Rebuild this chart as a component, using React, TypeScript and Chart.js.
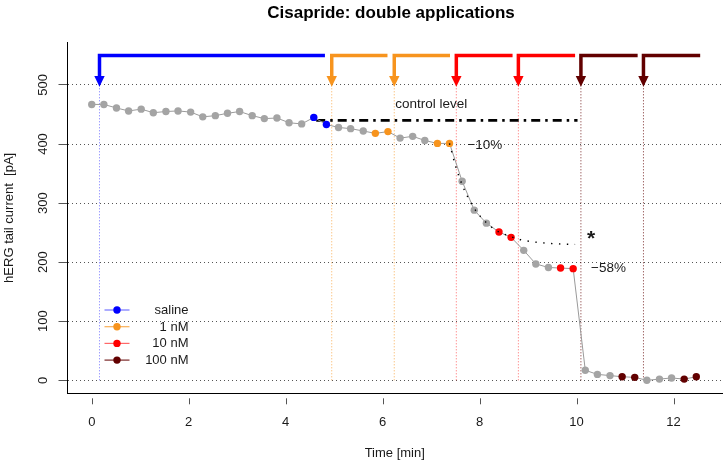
import { useEffect, useRef } from "react";
import { Chart, registerables } from "chart.js";

Chart.register(...registerables);

const FONT = '"Liberation Sans", Arial, Helvetica, sans-serif';

// ---- text ----
const TITLE = "Cisapride: double applications";
const X_TITLE = "Time [min]";
const Y_TITLE = "hERG tail current  [pA]";

// ---- axes ----
const X_MIN = -0.5;
const X_MAX = 13;
const Y_MIN = -22;
const Y_MAX = 572;
const xTickValues = [0, 2, 4, 6, 8, 10, 12];
const yTickValues = [0, 100, 200, 300, 400, 500];

// ---- measured series ----
const timeMin = [
  0.0, 0.25, 0.51, 0.76, 1.02, 1.27, 1.53, 1.78, 2.04, 2.29,
  2.55, 2.8, 3.05, 3.31, 3.56, 3.82, 4.07, 4.33, 4.58, 4.84,
  5.09, 5.34, 5.6, 5.85, 6.11, 6.36, 6.62, 6.87, 7.13, 7.38,
  7.64, 7.89, 8.14, 8.4, 8.65, 8.91, 9.16, 9.42, 9.67, 9.93,
  10.18, 10.43, 10.69, 10.94, 11.2, 11.45, 11.71, 11.96, 12.22, 12.47,
];
const currentPA = [
  467, 467, 461, 456, 459, 453, 455, 456, 454, 446,
  448, 452, 455, 448, 443, 444, 436, 434, 445, 433,
  428, 426, 422, 418, 421, 410, 413, 406, 401, 401,
  337, 288, 266, 251, 242, 220, 197, 191, 190, 189,
  17, 10, 8, 6, 5, 0, 2, 4, 2, 6,
];
// -1 = no group (grey), otherwise index into groupNames
const pointGroup = [
  -1, -1, -1, -1, -1, -1, -1, -1, -1, -1,
  -1, -1, -1, -1, -1, -1, -1, -1, 0, 0,
  -1, -1, -1, 1, 1, -1, -1, -1, 1, 1,
  -1, -1, -1, 2, 2, -1, -1, -1, 2, 2,
  -1, -1, -1, 3, 3, -1, -1, -1, 3, 3,
];

const groupNames = ["saline", "1 nM", "10 nM", "100 nM"];
const groupColors = ["#0000ff", "#f7941e", "#ff0000", "#620000"];
const groupLineColors = [
  "rgba(70,70,255,0.75)",
  "rgba(247,148,30,0.75)",
  "rgba(255,40,40,0.7)",
  "rgba(98,0,0,0.85)",
];
const GREY_POINT = "#a4a4a4";
const GREY_LINE = "#9a9a9a";

// ---- applications (arrows) ----
const applicationTimes = [0.16, 4.95, 6.24, 7.52, 8.8, 10.09, 11.38];
const applicationEnds = [4.81, 6.1, 7.39, 8.68, 9.97, 11.26, 12.55];
const applicationGroup = [0, 1, 1, 2, 2, 3, 3];
const ARROW_TOP = 550;
const ARROW_HEAD_BASE = 515;
const ARROW_TIP = 497;
const GUIDE_BOTTOM = 0;
const GUIDE_TOP = 500;

// ---- control level ----
const CONTROL_LEVEL = 440;
const controlSpan = [4.63, 10.02];

// ---- fitted decay after 10 nM ----
const fitTimes = [7.38, 7.5, 7.64, 7.77, 7.89, 8.02, 8.14, 8.3, 8.4, 8.55, 8.65, 8.85, 9.1, 9.4, 9.7, 9.97];
const fitValues = [401, 364, 331, 308, 291, 277, 267, 256, 251, 246, 243, 238, 234.5, 232, 230.7, 230];

// ---- annotations (data coordinates) ----
const annotationTexts = ["control level", "\u221210%", "*", "\u221258%"];
const annotationX = [6.26, 7.75, 10.3, 10.3];
const annotationY = [468, 398, 236, 190];

const overlayPlugin = {
  id: "overlay",
  afterDatasetsDraw(chart: any) {
    const { ctx, scales } = chart;
    const x = scales.x;
    const y = scales.y;
    ctx.save();
    // arrow heads
    applicationTimes.forEach((t, i) => {
      const px = x.getPixelForValue(t);
      const pb = y.getPixelForValue(ARROW_HEAD_BASE);
      const pt = y.getPixelForValue(ARROW_TIP);
      ctx.fillStyle = groupColors[applicationGroup[i]];
      ctx.beginPath();
      ctx.moveTo(px - 5.2, pb);
      ctx.lineTo(px + 5.2, pb);
      ctx.lineTo(px, pt);
      ctx.closePath();
      ctx.fill();
    });
    // annotations
    ctx.fillStyle = "#1a1a1a";
    annotationTexts.forEach((txt, i) => {
      const px = x.getPixelForValue(annotationX[i]);
      const py = y.getPixelForValue(annotationY[i]);
      if (txt === "*") {
        ctx.font = `bold 21px ${FONT}`;
        const m = ctx.measureText(txt);
        const asc = m.actualBoundingBoxAscent;
        const desc = m.actualBoundingBoxDescent;
        ctx.textAlign = "center";
        ctx.textBaseline = "alphabetic";
        ctx.fillText(txt, px, py + (asc - desc) / 2);
      } else {
        ctx.font = `13.5px ${FONT}`;
        ctx.textAlign = "left";
        ctx.textBaseline = "middle";
        ctx.fillText(txt, px, py);
      }
    });
    ctx.restore();
  },
  afterDraw(chart: any) {
    const { ctx, chartArea, scales } = chart;
    const x = scales.x;
    ctx.save();
    // title
    ctx.fillStyle = "#000";
    ctx.font = `bold 17px ${FONT}`;
    ctx.textAlign = "center";
    ctx.textBaseline = "middle";
    ctx.fillText(TITLE, 391, 13);
    // x tick marks (offset from the axis line)
    ctx.strokeStyle = "#555";
    ctx.lineWidth = 1;
    x.ticks.forEach((tk: any) => {
      const px = Math.round(x.getPixelForValue(tk.value)) + 0.5;
      ctx.beginPath();
      ctx.moveTo(px, chartArea.bottom + 5);
      ctx.lineTo(px, chartArea.bottom + 11);
      ctx.stroke();
    });
    // legend
    const lx0 = chartArea.left + 37;
    const lx1 = chartArea.left + 62;
    const textRight = chartArea.left + 121;
    const rowTop = 310;
    const rowGap = 16.7;
    ctx.font = `13px ${FONT}`;
    ctx.textAlign = "right";
    ctx.textBaseline = "middle";
    groupNames.forEach((name, i) => {
      const ry = rowTop + i * rowGap;
      ctx.strokeStyle = groupLineColors[i];
      ctx.lineWidth = 1.2;
      ctx.beginPath();
      ctx.moveTo(lx0, ry);
      ctx.lineTo(lx1, ry);
      ctx.stroke();
      ctx.fillStyle = groupColors[i];
      ctx.beginPath();
      ctx.arc((lx0 + lx1) / 2, ry, 3.7, 0, Math.PI * 2);
      ctx.fill();
      ctx.fillStyle = "#1a1a1a";
      ctx.fillText(name, textRight, ry + 0.5);
    });
    ctx.restore();
  },
};

function buildConfig(): any {
  const mainData = timeMin.map((t, i) => ({ x: t, y: currentPA[i] }));
  const pointColors = pointGroup.map((g) => (g < 0 ? GREY_POINT : groupColors[g]));

  const guideSets = applicationTimes.map((t, i) => ({
    label: `guide${i}`,
    data: [
      { x: t, y: GUIDE_BOTTOM },
      { x: t, y: GUIDE_TOP },
    ],
    borderColor: groupLineColors[applicationGroup[i]],
    borderWidth: 1,
    borderDash: [1, 2],
    pointRadius: 0,
    order: 10,
  }));

  const bracketSets = applicationTimes.map((t, i) => ({
    label: `bracket${i}`,
    data: [
      { x: t, y: ARROW_HEAD_BASE },
      { x: t, y: ARROW_TOP },
      { x: applicationEnds[i], y: ARROW_TOP },
    ],
    borderColor: groupColors[applicationGroup[i]],
    borderWidth: 3.5,
    borderJoinStyle: "miter",
    borderCapStyle: "butt",
    pointRadius: 0,
    order: 5,
  }));

  return {
    type: "line",
    data: {
      datasets: [
        ...guideSets,
        ...bracketSets,
        {
          label: "control",
          data: [
            { x: controlSpan[0], y: CONTROL_LEVEL },
            { x: controlSpan[1], y: CONTROL_LEVEL },
          ],
          borderColor: "#000",
          borderWidth: 2.6,
          borderDash: [9, 5, 2.5, 5],
          pointRadius: 0,
          order: 4,
        },
        {
          label: "current",
          data: mainData,
          borderColor: GREY_LINE,
          borderWidth: 1,
          pointRadius: 3.7,
          pointBorderWidth: 0,
          pointBackgroundColor: pointColors,
          pointBorderColor: pointColors,
          order: 2,
        },
        {
          label: "fit",
          data: fitTimes.map((t, i) => ({ x: t, y: fitValues[i] })),
          borderColor: "#000",
          borderWidth: 1.4,
          borderDash: [1.4, 6.5],
          pointRadius: 0,
          cubicInterpolationMode: "monotone",
          order: 1,
        },
      ],
    },
    options: {
      responsive: false,
      maintainAspectRatio: false,
      animation: false,
      devicePixelRatio: 1,
      events: [],
      layout: { padding: { top: 42.4, right: 4, left: 0, bottom: 0 } },
      elements: { line: { tension: 0 } },
      plugins: {
        legend: { display: false },
        tooltip: { enabled: false },
        title: { display: false },
      },
      scales: {
        x: {
          type: "linear",
          min: X_MIN,
          max: X_MAX,
          afterBuildTicks(s: any) {
            s.ticks = xTickValues.map((v) => ({ value: v }));
          },
          afterFit(s: any) {
            s.height = 70.7;
          },
          ticks: {
            autoSkip: false,
            maxRotation: 0,
            padding: 21,
            color: "#1a1a1a",
            font: { size: 13, family: FONT },
          },
          grid: { drawOnChartArea: false, drawTicks: false },
          border: { display: true, color: "#000", width: 1 },
          title: {
            display: true,
            text: X_TITLE,
            color: "#1a1a1a",
            font: { size: 13, family: FONT },
            padding: { top: 0, bottom: 3.2 },
          },
        },
        y: {
          type: "linear",
          min: Y_MIN,
          max: Y_MAX,
          afterBuildTicks(s: any) {
            s.ticks = yTickValues.map((v) => ({ value: v }));
          },
          afterFit(s: any) {
            s.width = 67.5;
          },
          ticks: {
            autoSkip: false,
            minRotation: 90,
            maxRotation: 90,
            crossAlign: "center",
            padding: 4.4,
            color: "#1a1a1a",
            font: { size: 13, family: FONT },
          },
          grid: {
            color: "#555",
            lineWidth: 1,
            drawTicks: true,
            tickLength: 9,
            tickColor: "#555",
            tickBorderDash: [],
          },
          border: { display: true, color: "#000", width: 1, dash: [1, 3] },
          title: {
            display: true,
            text: Y_TITLE,
            color: "#1a1a1a",
            font: { size: 13, family: FONT },
            padding: { top: 1.5, bottom: 0 },
          },
        },
      },
    },
    plugins: [overlayPlugin],
  };
}

export default function App() {
  const ref = useRef<HTMLCanvasElement>(null);
  useEffect(() => {
    if (!ref.current) return;
    const chart = new Chart(ref.current, buildConfig());
    return () => chart.destroy();
  }, []);
  return (
    <div style={{ position: "absolute", left: 0, top: 0, width: 726, height: 464, background: "#fff" }}>
      <canvas ref={ref} width={726} height={464} style={{ display: "block", width: 726, height: 464 }} />
    </div>
  );
}
